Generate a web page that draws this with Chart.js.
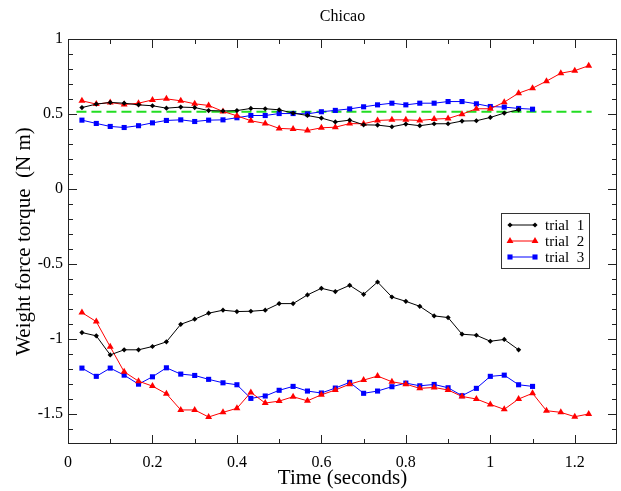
<!DOCTYPE html>
<html>
<head>
<meta charset="utf-8">
<title>Chicao</title>
<script src="https://cdn.jsdelivr.net/npm/chart.js@4.4.0/dist/chart.umd.min.js"></script>
<style>
  html, body { margin: 0; padding: 0; background: #fff; }
  #wrap { width: 621px; height: 491px; }
</style>
</head>
<body>
<div id="wrap"><canvas id="torqueChart" width="621" height="491"></canvas></div>
<script>
// sample times (s), one frame every 1/30 s
const times = [
  0.033, 0.067, 0.100, 0.133, 0.167, 0.200, 0.233, 0.267, 0.300, 0.333,
  0.367, 0.400, 0.433, 0.467, 0.500, 0.533, 0.567, 0.600, 0.633, 0.667,
  0.700, 0.733, 0.767, 0.800, 0.833, 0.867, 0.900, 0.933, 0.967, 1.000,
  1.033, 1.067, 1.100, 1.133, 1.167, 1.200, 1.233
];

// upper branch of each trial
const trial1Upper = [
  0.543, 0.566, 0.577, 0.572, 0.561, 0.555, 0.539, 0.546, 0.543, 0.523,
  0.520, 0.523, 0.537, 0.535, 0.528, 0.506, 0.490, 0.473, 0.447, 0.459,
  0.428, 0.426, 0.415, 0.433, 0.422, 0.435, 0.435, 0.453, 0.455, 0.477,
  0.506, 0.528
];
const trial2Upper = [
  0.588, 0.566, 0.577, 0.563, 0.572, 0.594, 0.601, 0.588, 0.568, 0.557,
  0.517, 0.488, 0.455, 0.437, 0.404, 0.400, 0.390, 0.408, 0.412, 0.436,
  0.435, 0.457, 0.461, 0.461, 0.457, 0.466, 0.470, 0.499, 0.535, 0.535,
  0.579, 0.639, 0.672, 0.719, 0.772, 0.789, 0.822
];
const trial3Upper = [
  0.459, 0.437, 0.417, 0.410, 0.422, 0.441, 0.457, 0.461, 0.450, 0.459,
  0.461, 0.475, 0.490, 0.490, 0.503, 0.503, 0.501, 0.515, 0.524, 0.534,
  0.548, 0.561, 0.572, 0.561, 0.572, 0.572, 0.583, 0.583, 0.568, 0.550,
  0.546, 0.537, 0.532
];

// lower branch of each trial
const trial1Lower = [
  -0.957, -0.979, -1.106, -1.072, -1.072, -1.050, -1.019, -0.902, -0.868, -0.828,
  -0.808, -0.817, -0.815, -0.808, -0.764, -0.764, -0.706, -0.662, -0.684, -0.642,
  -0.702, -0.620, -0.720, -0.749, -0.782, -0.846, -0.857, -0.968, -0.975, -1.015,
  -1.003, -1.072
];
const trial2Lower = [
  -0.824, -0.884, -1.052, -1.219, -1.281, -1.314, -1.365, -1.473, -1.473, -1.520,
  -1.489, -1.462, -1.356, -1.427, -1.414, -1.385, -1.412, -1.372, -1.340, -1.301,
  -1.274, -1.247, -1.285, -1.301, -1.329, -1.323, -1.340, -1.383, -1.400, -1.436,
  -1.469, -1.400, -1.362, -1.478, -1.489, -1.518, -1.500
];
const trial3Lower = [
  -1.194, -1.249, -1.194, -1.241, -1.301, -1.252, -1.192, -1.234, -1.243, -1.269,
  -1.292, -1.305, -1.396, -1.380, -1.342, -1.316, -1.347, -1.360, -1.327, -1.289,
  -1.362, -1.347, -1.318, -1.294, -1.312, -1.303, -1.325, -1.378, -1.329, -1.249,
  -1.241, -1.305, -1.316
];

// reference level (green dashed)
const refLevel = 0.515;
const refSpan = [0.02, 1.24];

const trialLabels = ['trial  1', 'trial  2', 'trial  3'];

const SERIF = "'Liberation Serif', 'DejaVu Serif', serif";
Chart.defaults.color = '#000';
Chart.defaults.font.family = SERIF;

const toPoints = vals => vals.map((v, i) => ({ x: times[i], y: v }));
const fmtTick = v => String(Math.round(v * 10) / 10);

const STYLES = [
  { color: '#000000', pointStyle: 'rectRot', radius: 2.6 },
  { color: '#ff0000', pointStyle: 'triangle', radius: 4 },
  { color: '#0000ff', pointStyle: 'rect', radius: 3.6 }
];

function trialSet(vals, s, label) {
  return {
    label: label,
    data: toPoints(vals),
    borderColor: s.color,
    backgroundColor: s.color,
    borderWidth: 1,
    pointStyle: s.pointStyle,
    pointRadius: s.radius,
    pointBorderWidth: 0,
    pointBackgroundColor: s.color,
    tension: 0,
    fill: false
  };
}

// frame with inward tick marks on all four sides, title and legend
const frameTicks = {
  id: 'frameTicks',
  afterDraw(chart) {
    const { ctx, chartArea: a, scales: { x, y } } = chart;
    ctx.save();
    ctx.strokeStyle = '#222';
    ctx.lineWidth = 1;
    ctx.strokeRect(a.left + 0.5, a.top + 0.5, a.right - a.left - 1, a.bottom - a.top - 1);
    ctx.beginPath();
    for (let i = 1; i < 13; i++) {
      const px = Math.round(x.getPixelForValue(i / 10)) + 0.5;
      const len = i % 2 === 0 ? 9 : 5;
      ctx.moveTo(px, a.bottom); ctx.lineTo(px, a.bottom - len);
      ctx.moveTo(px, a.top); ctx.lineTo(px, a.top + len);
    }
    for (let i = -16; i < 10; i++) {
      const py = Math.round(y.getPixelForValue(i / 10)) + 0.5;
      const len = i % 5 === 0 ? 9 : 5;
      ctx.moveTo(a.left, py); ctx.lineTo(a.left + len, py);
      ctx.moveTo(a.right, py); ctx.lineTo(a.right - len, py);
    }
    ctx.stroke();

    // title
    ctx.fillStyle = '#000';
    ctx.font = '16px ' + SERIF;
    ctx.textAlign = 'center';
    ctx.textBaseline = 'middle';
    ctx.fillText('Chicao', (a.left + a.right) / 2, 17);

    // legend box
    const lx = a.right - 116, ly = a.top + 174, lw = 88, lh = 55;
    ctx.fillStyle = '#fff';
    ctx.fillRect(lx, ly, lw, lh);
    ctx.strokeStyle = '#333';
    ctx.strokeRect(lx + 0.5, ly + 0.5, lw, lh);
    ctx.font = '15px ' + SERIF;
    ctx.textAlign = 'left';
    STYLES.forEach((s, i) => {
      const ry = ly + 12 + i * 16;
      ctx.strokeStyle = s.color;
      ctx.fillStyle = s.color;
      ctx.lineWidth = 1;
      ctx.beginPath();
      ctx.moveTo(lx + 9, ry); ctx.lineTo(lx + 34, ry);
      ctx.stroke();
      const opts = { pointStyle: s.pointStyle, radius: s.radius, rotation: 0, borderWidth: 0 };
      Chart.helpers.drawPoint(ctx, opts, lx + 9, ry);
      Chart.helpers.drawPoint(ctx, opts, lx + 34, ry);
      ctx.fillStyle = '#000';
      ctx.fillText(trialLabels[i], lx + 44, ry + 1);
    });
    ctx.restore();
  }
};

const chart = new Chart(document.getElementById('torqueChart'), {
  type: 'line',
  data: {
    datasets: [
      trialSet(trial1Upper, STYLES[0], trialLabels[0]),
      trialSet(trial2Upper, STYLES[1], trialLabels[1]),
      trialSet(trial3Upper, STYLES[2], trialLabels[2]),
      trialSet(trial1Lower, STYLES[0], trialLabels[0]),
      trialSet(trial2Lower, STYLES[1], trialLabels[1]),
      trialSet(trial3Lower, STYLES[2], trialLabels[2]),
      {
        label: 'reference',
        data: refSpan.map(t => ({ x: t, y: refLevel })),
        borderColor: '#22dd22',
        borderWidth: 2,
        borderDash: [10, 5],
        pointRadius: 0,
        fill: false
      }
    ]
  },
  options: {
    responsive: false,
    animation: false,
    layout: { padding: { top: 39, right: 1, left: 0, bottom: 0 } },
    plugins: {
      legend: { display: false },
      tooltip: { enabled: false },
      title: { display: false }
    },
    scales: {
      x: {
        type: 'linear',
        min: 0, max: 1.3,
        grid: { display: false, drawTicks: false },
        border: { display: false },
        ticks: { stepSize: 0.2, includeBounds: false, padding: 9, font: { size: 16 }, callback: fmtTick },
        title: { display: true, text: 'Time (seconds)', font: { size: 21 }, padding: { top: 0, bottom: 0 } },
        afterFit: s => { s.height = 47; }
      },
      y: {
        min: -1.7, max: 1,
        grid: { display: false, drawTicks: false },
        border: { display: false },
        ticks: { stepSize: 0.5, includeBounds: false, padding: 5, font: { size: 16 }, callback: fmtTick },
        title: { display: true, text: 'Weight force torque  (N m)', font: { size: 21 }, padding: { top: 12, bottom: 0 } },
        afterFit: s => { s.width = 68; }
      }
    }
  },
  plugins: [frameTicks]
});
</script>
</body>
</html>
